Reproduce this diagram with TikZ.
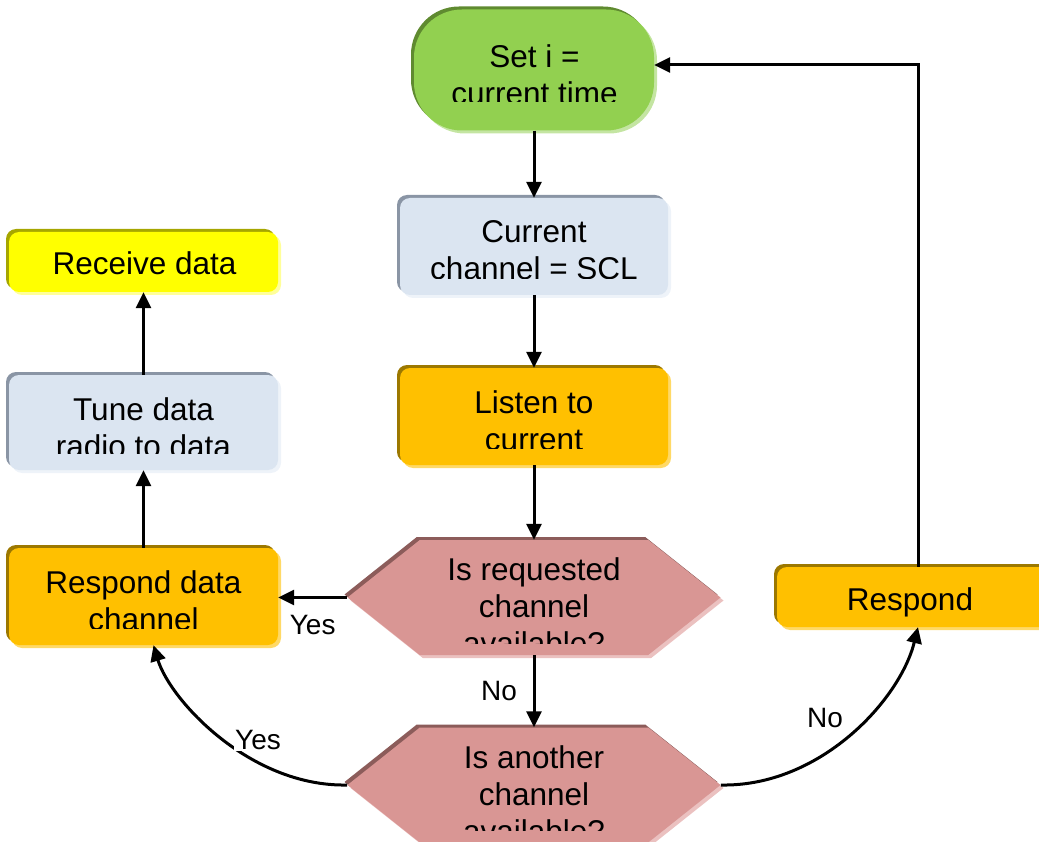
\documentclass[tikz,border=0pt]{standalone}
\usepackage{fontspec}
\setmainfont{Liberation Sans}
\usetikzlibrary{shapes.symbols,shadows,arrows.meta,calc}
\definecolor{gfill}{HTML}{92D050}\definecolor{gdark}{HTML}{5F8A30}\definecolor{glight}{HTML}{C4E5A2}
\definecolor{bfill}{HTML}{DBE5F1}\definecolor{bdark}{HTML}{8A95A5}\definecolor{blight}{HTML}{EEF3F9}
\definecolor{ofill}{HTML}{FFC000}\definecolor{odark}{HTML}{9C7800}\definecolor{olight}{HTML}{FFD966}
\definecolor{yfill}{HTML}{FFFF00}\definecolor{ydark}{HTML}{A6A600}\definecolor{ylight}{HTML}{FFFF99}
\definecolor{pfill}{HTML}{D99694}\definecolor{pdark}{HTML}{8C5C5A}\definecolor{plight}{HTML}{EBC1C0}
\begin{document}
\begin{tikzpicture}[x=1pt,y=-1pt,
  bevel/.style 2 args={general shadow={fill=#1,shadow xshift=-3pt,shadow yshift=3pt},
                       general shadow={fill=#2,shadow xshift=3pt,shadow yshift=-3pt}},
  boxshape/.style={rectangle,rounded corners=10pt,inner sep=0pt},
  termshape/.style={rectangle,rounded corners=48pt,inner sep=0pt,fill=gfill,bevel={gdark}{glight},minimum width=240pt,minimum height=121pt},
  blueshape/.style={boxshape,fill=bfill,bevel={bdark}{blight}},
  orangeshape/.style={boxshape,fill=ofill,bevel={odark}{olight}},
  yellowshape/.style={boxshape,fill=yfill,bevel={ydark}{ylight}},
  hexshape/.style={signal,signal to=west and east,signal pointer angle=77,inner sep=0pt,fill=pfill,bevel={pdark}{plight},minimum width=373pt,minimum height=115pt},
  txt/.style={align=center,anchor=base,inner sep=0pt,font=\fontsize{31.5}{37}\selectfont},
  lbl/.style={inner sep=1pt,font=\fontsize{28}{32}\selectfont},
  flow/.style={line width=3pt,-{Triangle[length=16pt,width=15pt]}}
]
\useasboundingbox (0,0) rectangle (1039,842);

% shapes
\node[termshape] (start) at (534,70) {};
\node[blueshape,minimum width=268pt,minimum height=97pt] (cur) at (534,246.5) {};
\node[orangeshape,minimum width=268pt,minimum height=97pt] (listen) at (534,416.5) {};
\node[hexshape] (dec1) at (534,597.5) {};
\node[hexshape] (dec2) at (534,785) {};
\node[yellowshape,minimum width=269pt,minimum height=60pt] (recv) at (143.5,262) {};
\node[blueshape,minimum width=269pt,minimum height=95pt] (tune) at (143.5,422.5) {};
\node[orangeshape,minimum width=269pt,minimum height=97pt] (rdc) at (143.5,596.5) {};
\node[orangeshape,minimum width=282pt,minimum height=60pt] (resp) at (918,597) {};

% texts (clipped as printed; anchor=base is the last line's baseline)
\begin{scope}\clip (413,0) rectangle (653,102);
\node[txt] (tstart) at (534.5,105) {Set i =\\current time};\end{scope}
\begin{scope}\clip (400,190) rectangle (668,278.5);
\node[txt] (tcur) at (534,280) {Current\\channel = SCL};\end{scope}
\begin{scope}\clip (400,360) rectangle (668,448);
\node[txt] (tlisten) at (534,450) {Listen to\\current};\end{scope}
\begin{scope}\clip (345,530) rectangle (720,643);
\node[txt] (tdec1) at (534,654) {Is requested\\channel\\available?};\end{scope}
\begin{scope}\clip (345,720) rectangle (720,830);
\node[txt] (tdec2) at (534,842) {Is another\\channel\\available?};\end{scope}
\node[txt] (trecv) at (144.5,275) {Receive data};
\begin{scope}\clip (0,370) rectangle (280,453.5);
\node[txt] (ttune) at (143.5,457) {Tune data\\radio to data};\end{scope}
\begin{scope}\clip (0,540) rectangle (280,628);
\node[txt] (trdc) at (143.5,630) {Respond data\\channel};\end{scope}
\node[txt] (tresp) at (910,610) {Respond};

% connectors
\coordinate (startin) at ($(start.east)+(0,-5)$);
\coordinate (rdcin) at ($(rdc.south)+(10,0)$);
\coordinate (turn) at (resp.north |- startin);
\draw[flow] (start.south) -- (cur.north);
\draw[flow] (cur.south) -- (listen.north);
\draw[flow] (listen.south) -- (dec1.north);
\draw[flow] (dec1.south) -- node[lbl,pos=0.5,xshift=-35pt] (lno) {No} (dec2.north);
\draw[flow] (dec1.west) -- node[lbl,pos=0.5,yshift=-28pt] (lyes) {Yes} (rdc.east |- dec1.west);
\draw[flow] (tune.north) -- (recv.south);
\draw[flow] (rdc.north) -- (tune.south);
\draw[flow] (dec2.west) .. controls (250,787) and (170,700) .. (rdcin);
\draw[flow] (dec2.east) .. controls (820,787) and (900,700) .. (resp.south);
\draw[flow] (resp.north) -- (turn) -- (startin);
\node[lbl,fill=white] (lyes2) at (258,740) {Yes};
\node[lbl,fill=white] (lno2) at (825,718) {No};
\end{tikzpicture}
\end{document}
